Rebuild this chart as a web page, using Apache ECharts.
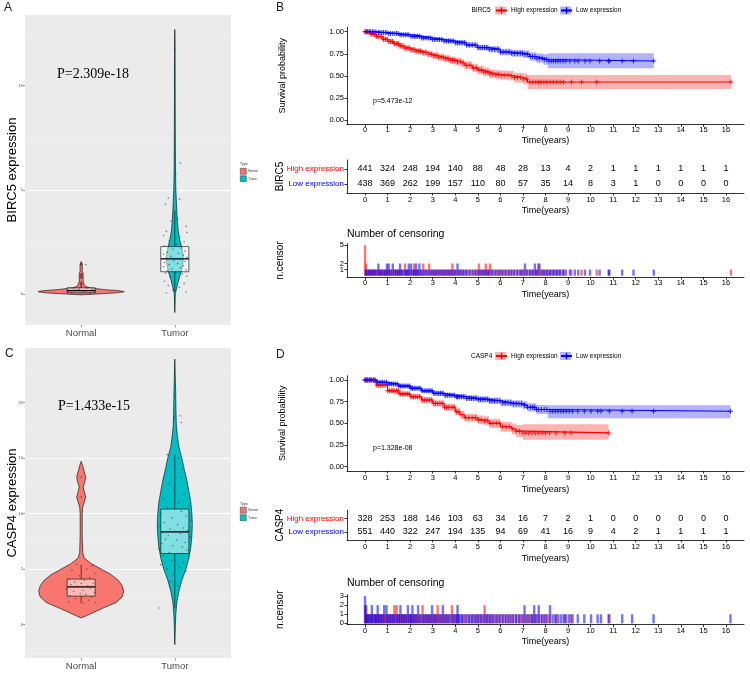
<!DOCTYPE html>
<html><head><meta charset="utf-8">
<script src="https://cdn.jsdelivr.net/npm/echarts@6/dist/echarts.min.js"></script>
<style>html,body{margin:0;padding:0;background:#fff}#c{width:750px;height:674px}</style>
</head><body><div id="c"></div>
<script>
// ================= DATA =================
const groups = ['Normal', 'Tumor'];
const groupPos = [1, 2];
const birc5ExprTicks = [0, 5, 10];
const casp4ExprTicks = [0, 5, 10, 15, 20];
const years = [0,1,2,3,4,5,6,7,8,9,10,11,12,13,14,15,16];
const survTicks = [0, 0.25, 0.5, 0.75, 1];
const birc5CensorTicks = [0, 1, 2, 5];
const casp4CensorTicks = [0, 1, 2, 3];

// violin profiles: [expression value, half width (category units)]
const birc5NormalViolin = [[-0.05,0],[0,0.214],[0.05,0.385],[0.1,0.46],[0.15,0.406],[0.2,0.256],[0.28,0.096],[0.35,0.048],[0.45,0.032],[0.6,0.021],[0.8,0.021],[0.95,0.021],[1.1,0.011],[1.3,0.013],[1.45,0.009],[1.55,0]];
const birc5TumorViolin = [[-0.9,0],[-0.3,0.004],[0,0.006],[0.3,0.021],[0.7,0.043],[1.0,0.064],[1.4,0.085],[1.8,0.091],[2.2,0.075],[2.6,0.053],[3.0,0.037],[3.5,0.027],[4.0,0.021],[4.5,0.016],[5.0,0.011],[6,0.007],[8,0.005],[10,0.004],[12,0.003],[12.7,0]];
const casp4NormalViolin = [[0.6,0],[1.0,0.107],[1.5,0.235],[2.0,0.374],[2.5,0.438],[3.0,0.454],[3.5,0.438],[4.0,0.395],[4.5,0.321],[5.0,0.214],[5.5,0.107],[6.0,0.032],[6.5,0.016],[8,0.011],[10,0.011],[10.6,0.016],[11.0,0.032],[11.5,0.048],[12.0,0.032],[12.4,0.021],[12.8,0.037],[13.3,0.048],[13.8,0.032],[14.3,0.016],[14.7,0]];
const casp4TumorViolin = [[-1.8,0],[-1,0.003],[0,0.006],[1,0.011],[2,0.021],[3,0.043],[4,0.075],[5,0.118],[6,0.15],[7,0.171],[8,0.182],[9,0.187],[10,0.182],[11,0.171],[12,0.15],[13,0.128],[14,0.1],[15,0.075],[16,0.043],[17,0.027],[18,0.016],[19,0.013],[20,0.011],[21,0.009],[22,0.006],[23,0.003],[23.9,0]];

// boxplot stats: [lower whisker, Q1, median, Q3, upper whisker]
const birc5Box = [[0.0,0.05,0.15,0.29,0.6],[0.1,1.06,1.68,2.27,4.0]];
const casp4Box = [[1.95,2.57,3.4,4.1,5.4],[1.5,6.4,8.35,10.4,15.3]];

// jitter points: [offset from group centre, value]
const birc5NormalPoints = [[-0.1,0.05],[0.02,0.12],[0.12,0.2],[-0.14,0.1],[0.06,0.28],[-0.04,0.18],[0.15,0.08],[-0.08,0.25],[0.09,0.03],[0,0.32],[-0.12,0.15],[0.04,0.07],[0.13,0.14],[-0.02,0.22],[0.05,1.4]];
const birc5NormalOutliers = [[0,1.42],[0,0.92],[0,0.8],[0,0.47]];
const birc5TumorPoints = [[0,11.75],[0,6.3],[0.06,6.28],[0.01,5.8],[-0.07,4.6],[0.05,4.55],[-0.1,4.3],[0.03,3.6],[-0.04,3.5],[0.12,3.25],[-0.09,3.0],[0.13,2.95],[-0.12,2.8],[0.05,2.7],[-0.06,2.55],[0.1,2.5],[0.02,2.4],[-0.11,2.3],[0.07,2.2],[-0.02,2.15],[0.11,2.05],[-0.08,2.0],[0.04,1.95],[-0.12,1.9],[0.09,1.85],[-0.04,1.8],[0.13,1.75],[-0.1,1.7],[0.06,1.65],[-0.01,1.6],[0.11,1.55],[-0.11,1.5],[0.03,1.45],[-0.06,1.4],[0.09,1.35],[-0.12,1.3],[0.06,1.25],[-0.03,1.2],[0.12,1.15],[-0.08,1.1],[0.01,1.05],[-0.1,1.0],[0.08,0.95],[0.13,0.85],[-0.05,0.8],[0.04,0.7],[-0.11,0.6],[0.1,0.5],[-0.07,0.4],[0.05,0.3],[-0.02,0.2],[0.12,0.1],[-0.09,0.05]];
const casp4NormalPoints = [[-0.05,5.4],[0.12,5.3],[0.06,5.0],[-0.1,4.9],[0.15,4.6],[-0.02,4.4],[0.09,4.2],[-0.14,4.1],[0.03,4.0],[-0.07,3.85],[0.13,3.75],[0,3.7],[-0.11,3.6],[0.07,3.5],[-0.04,3.45],[0.1,3.3],[-0.16,3.2],[0.02,3.1],[-0.08,3.0],[0.14,2.9],[-0.01,2.8],[0.05,2.7],[-0.12,2.6],[0.11,2.5],[-0.06,2.35],[0.08,2.2],[-0.13,2.05],[0.02,1.95],[0.15,2.0],[0,13.3],[0,11.5]];
const casp4TumorPoints = [[0,20.6],[-0.01,18.7],[0.06,18.8],[0.07,18.2],[-0.08,15.3],[0.04,15.0],[0.08,14.0],[0.07,13.2],[-0.07,12.7],[-0.01,12.2],[0.1,11.8],[-0.12,11.3],[0.04,11.0],[0.15,10.7],[-0.08,10.5],[0.07,10.2],[-0.15,10.0],[0.12,9.8],[-0.03,9.6],[0.17,9.4],[-0.11,9.2],[0.03,9.0],[-0.16,8.9],[0.09,8.7],[-0.05,8.6],[0.14,8.5],[0,8.4],[-0.13,8.3],[0.06,8.2],[-0.07,8.0],[0.16,7.9],[-0.1,7.7],[0.02,7.6],[0.11,7.4],[-0.14,7.3],[-0.02,7.1],[0.08,7.0],[-0.17,6.8],[0.13,6.7],[-0.06,6.5],[0.04,6.4],[-0.12,6.2],[0.15,6.0],[-0.03,5.8],[0.09,5.6],[-0.15,5.4],[0.05,5.2],[-0.08,5.0],[0.12,4.8],[-0.01,4.5],[0.07,4.2],[-0.05,3.9],[0.03,3.5],[-0.17,1.5]];

// Kaplan-Meier curves: [time, survival, lower CI, upper CI]
const birc5High = [[0,1,1,1],[0.25,0.97,0.955,0.985],[0.5,0.945,0.925,0.965],[0.75,0.915,0.89,0.94],[1.0,0.89,0.862,0.918],[1.25,0.865,0.835,0.895],[1.5,0.84,0.808,0.872],[1.75,0.815,0.782,0.848],[2.0,0.795,0.76,0.83],[2.25,0.78,0.744,0.816],[2.5,0.765,0.728,0.802],[2.75,0.745,0.707,0.783],[3.0,0.728,0.689,0.767],[3.25,0.71,0.67,0.75],[3.5,0.695,0.654,0.736],[3.75,0.678,0.636,0.72],[4.0,0.66,0.617,0.703],[4.25,0.645,0.601,0.689],[4.4,0.62,0.575,0.665],[4.75,0.59,0.543,0.637],[5.0,0.565,0.517,0.613],[5.25,0.545,0.496,0.594],[5.5,0.525,0.475,0.575],[5.75,0.515,0.464,0.566],[6.0,0.508,0.456,0.56],[6.4,0.5,0.446,0.554],[6.6,0.48,0.424,0.536],[7.0,0.465,0.405,0.525],[7.2,0.43,0.35,0.51],[16.22,0.43,0.35,0.51]];
const birc5Low = [[0,1,1,1],[0.5,0.99,0.982,0.998],[1.0,0.98,0.968,0.992],[1.5,0.965,0.95,0.98],[2.0,0.95,0.932,0.968],[2.5,0.93,0.909,0.951],[3.0,0.912,0.889,0.935],[3.5,0.895,0.87,0.92],[4.0,0.875,0.848,0.902],[4.5,0.85,0.82,0.88],[5.0,0.82,0.787,0.853],[5.5,0.8,0.765,0.835],[6.0,0.77,0.732,0.808],[6.5,0.755,0.715,0.795],[7.0,0.745,0.702,0.788],[7.3,0.72,0.672,0.768],[7.6,0.7,0.648,0.752],[7.9,0.685,0.625,0.745],[8.1,0.668,0.585,0.755],[12.8,0.668,0.585,0.755]];
const casp4High = [[0,1,1,1],[0.5,0.94,0.925,0.955],[1.0,0.875,0.852,0.898],[1.5,0.84,0.813,0.867],[2.0,0.808,0.777,0.839],[2.5,0.77,0.736,0.804],[3.0,0.73,0.693,0.767],[3.5,0.685,0.645,0.725],[4.0,0.635,0.592,0.678],[4.2,0.6,0.555,0.645],[4.4,0.565,0.518,0.612],[5.0,0.54,0.49,0.59],[5.3,0.53,0.478,0.582],[5.5,0.5,0.446,0.554],[6.0,0.46,0.402,0.518],[6.5,0.435,0.372,0.498],[6.7,0.41,0.34,0.48],[7.0,0.39,0.31,0.49],[10.79,0.39,0.31,0.49]];
const casp4Low = [[0,1,1,1],[0.5,0.975,0.965,0.985],[1.0,0.954,0.938,0.97],[1.5,0.93,0.91,0.95],[2.0,0.904,0.881,0.927],[2.5,0.875,0.85,0.9],[3.0,0.846,0.819,0.873],[3.5,0.825,0.796,0.854],[4.0,0.808,0.777,0.839],[4.5,0.79,0.757,0.823],[5.0,0.777,0.742,0.812],[5.5,0.76,0.723,0.797],[6.0,0.738,0.698,0.778],[6.5,0.725,0.683,0.767],[7.0,0.71,0.665,0.755],[7.2,0.685,0.637,0.733],[7.6,0.66,0.608,0.712],[8.1,0.64,0.56,0.71],[16.2,0.64,0.56,0.71]];

// numbers at risk
const birc5HighRisk = [441,324,248,194,140,88,48,28,13,4,2,1,1,1,1,1,1];
const birc5LowRisk  = [438,369,262,199,157,110,80,57,35,14,8,3,1,0,0,0,0];
const casp4HighRisk = [328,253,188,146,103,63,34,16,7,2,1,0,0,0,0,0,0];
const casp4LowRisk  = [551,440,322,247,194,135,94,69,41,16,9,4,2,1,1,1,1];

// censoring: [time, number censored]
const birc5HighCensor = [[0,5],[0.05,2],[0.12,1],[0.2,1],[0.27,1],[0.35,1],[0.43,1],[0.5,1],[0.58,1],[0.66,1],[0.74,1],[0.82,1],[0.9,1],[0.98,1],[1.06,1],[1.14,1],[1.22,1],[1.31,1],[1.4,1],[1.48,1],[1.56,1],[1.64,1],[1.77,2],[1.86,1],[1.95,1],[2.05,1],[2.17,2],[2.26,1],[2.36,1],[2.46,1],[2.58,2],[2.7,1],[2.84,2],[2.95,1],[3.06,1],[3.16,1],[3.27,1],[3.38,1],[3.48,1],[3.58,1],[3.68,1],[3.77,1],[3.87,2],[3.98,1],[4.1,1],[4.22,1],[4.35,1],[4.5,1],[4.65,1],[4.8,1],[4.93,1],[5.05,2],[5.16,1],[5.26,1],[5.35,2],[5.45,1],[5.54,2],[5.66,1],[5.8,1],[5.93,1],[6.06,1],[6.2,1],[6.34,1],[6.48,1],[6.62,1],[6.76,1],[6.9,1],[7.03,1],[7.16,1],[7.3,1],[7.44,1],[7.57,1],[7.68,2],[7.8,1],[7.93,1],[8.06,1],[8.2,1],[8.35,1],[8.5,1],[8.65,1],[8.8,1],[9.15,1],[9.6,1],[10.27,1],[16.22,1]];
const birc5LowCensor = [[0.03,1],[0.1,1],[0.18,1],[0.25,1],[0.33,1],[0.4,1],[0.48,1],[0.59,2],[0.66,1],[0.74,1],[0.82,1],[0.9,1],[0.97,2],[1.05,2],[1.13,1],[1.23,2],[1.32,1],[1.4,1],[1.47,1],[1.55,2],[1.63,1],[1.72,1],[1.8,1],[1.87,1],[1.94,2],[2.04,2],[2.12,1],[2.19,1],[2.26,2],[2.33,1],[2.41,2],[2.5,1],[2.6,1],[2.7,1],[2.8,1],[2.9,1],[3.0,1],[3.1,1],[3.2,1],[3.3,1],[3.4,1],[3.5,1],[3.6,1],[3.7,1],[3.8,1],[3.9,1],[4.0,1],[4.1,2],[4.2,1],[4.3,1],[4.4,1],[4.5,1],[4.62,1],[4.75,1],[4.88,1],[5.0,1],[5.1,1],[5.2,1],[5.3,1],[5.4,1],[5.5,1],[5.62,1],[5.75,1],[5.88,1],[6.0,1],[6.12,1],[6.25,1],[6.38,1],[6.5,1],[6.62,1],[6.75,1],[6.88,1],[6.98,1],[7.09,2],[7.2,1],[7.32,1],[7.42,1],[7.53,2],[7.62,1],[7.73,2],[7.85,1],[7.95,1],[8.05,1],[8.15,1],[8.25,1],[8.35,1],[8.45,1],[8.55,1],[8.65,1],[8.78,1],[8.9,1],[9.08,1],[9.3,1],[9.45,1],[9.75,1],[9.97,1],[10.4,1],[10.8,1],[10.83,1],[11.4,1],[11.9,1],[12.8,1]];
const casp4HighCensor = [[0,2],[0.05,1],[0.12,1],[0.2,1],[0.28,1],[0.36,1],[0.44,1],[0.52,1],[0.6,1],[0.68,1],[0.76,1],[0.84,1],[0.92,1],[1.0,1],[1.08,1],[1.16,1],[1.23,1],[1.3,2],[1.4,2],[1.48,1],[1.56,1],[1.64,1],[1.72,1],[1.8,1],[1.88,1],[1.96,1],[2.05,1],[2.14,1],[2.23,1],[2.32,1],[2.42,1],[2.55,2],[2.65,1],[2.75,1],[2.85,1],[2.95,1],[3.05,1],[3.13,1],[3.22,2],[3.32,1],[3.42,1],[3.52,1],[3.62,1],[3.72,1],[3.85,2],[3.95,1],[4.05,1],[4.15,1],[4.3,1],[4.45,1],[4.6,1],[4.75,1],[4.9,1],[5.02,1],[5.15,1],[5.3,2],[5.42,1],[5.55,1],[5.68,1],[5.82,1],[5.95,1],[6.1,1],[6.25,1],[6.4,1],[6.55,1],[6.7,1],[6.85,1],[7.0,1],[7.12,1],[7.25,1],[7.4,1],[7.55,1],[7.7,1],[7.85,1],[8.0,1],[8.17,1],[8.46,1],[8.85,1],[9.13,1],[10.79,1]];
const casp4LowCensor = [[0,3],[0.05,2],[0.1,1],[0.17,1],[0.24,1],[0.3,2],[0.37,1],[0.44,1],[0.5,1],[0.56,2],[0.63,1],[0.7,1],[0.77,1],[0.85,2],[0.95,2],[1.02,1],[1.1,1],[1.18,1],[1.26,1],[1.34,1],[1.42,1],[1.5,1],[1.57,2],[1.65,1],[1.73,1],[1.81,1],[1.9,2],[1.98,1],[2.04,1],[2.1,2],[2.18,1],[2.26,1],[2.35,2],[2.44,1],[2.53,1],[2.62,1],[2.71,1],[2.8,1],[2.88,1],[2.97,2],[3.06,1],[3.15,1],[3.25,1],[3.35,1],[3.45,2],[3.55,1],[3.65,1],[3.75,1],[3.85,1],[3.95,1],[4.05,1],[4.1,2],[4.17,1],[4.27,1],[4.37,1],[4.5,1],[4.62,1],[4.72,1],[4.82,1],[4.92,1],[5.02,1],[5.12,1],[5.22,1],[5.32,1],[5.42,1],[5.52,1],[5.62,1],[5.74,1],[5.86,1],[5.98,1],[6.1,1],[6.22,1],[6.34,1],[6.46,1],[6.58,1],[6.7,1],[6.82,1],[6.94,1],[7.07,2],[7.2,1],[7.32,1],[7.42,1],[7.5,2],[7.6,1],[7.7,2],[7.82,1],[7.94,1],[8.06,1],[8.2,2],[8.32,1],[8.44,1],[8.56,1],[8.68,1],[8.8,1],[8.92,1],[9.05,1],[9.2,1],[9.43,1],[9.72,1],[10.02,1],[10.31,1],[10.46,1],[10.83,1],[11.4,1],[11.84,1],[12.79,1],[16.2,1]];

// ================= STYLE / HELPERS =================
const FONT = 'Liberation Sans, Arial, Helvetica, sans-serif';
const SERIF = 'Liberation Serif, Times New Roman, serif';
const RED = '#FF0000', BLUE = '#0000FF';
const NORMAL_COL = '#F8766D', TUMOR_COL = '#00BFC4';
const PLUS = 'path://M0,4L10,4L10,6L0,6Z M4,0L6,0L6,10L4,10Z';
const BOX_HALF = 0.15;

function violinSeries(name, gi, pos, profile, color) {
  return {
    type: 'custom', name, xAxisIndex: gi, yAxisIndex: gi, silent: true,
    itemStyle: { color },
    data: [[pos, profile[0][0]]],
    renderItem: (params, api) => {
      const right = profile.map(([v, w]) => api.coord([pos + w, v]));
      const left = profile.slice().reverse().map(([v, w]) => api.coord([pos - w, v]));
      return { type: 'polygon', shape: { points: right.concat(left) },
        style: { fill: color, stroke: '#000', lineWidth: 0.6 } };
    }
  };
}
function boxSeries(gi, stats) {
  return {
    type: 'custom', xAxisIndex: gi, yAxisIndex: gi, silent: true,
    data: stats.map((s, i) => [groupPos[i]].concat(s)),
    encode: { x: 0, y: [1, 2, 3, 4, 5] },
    renderItem: (params, api) => {
      const p = api.value(0);
      const lw = api.coord([p, api.value(1)]), q1 = api.coord([p, api.value(2)]);
      const md = api.coord([p, api.value(3)]), q3 = api.coord([p, api.value(4)]);
      const uw = api.coord([p, api.value(5)]);
      const l = api.coord([p - BOX_HALF, 0])[0], r = api.coord([p + BOX_HALF, 0])[0];
      const st = { stroke: '#000', lineWidth: 0.6 };
      return { type: 'group', children: [
        { type: 'line', shape: { x1: lw[0], y1: lw[1], x2: q1[0], y2: q1[1] }, style: st },
        { type: 'line', shape: { x1: q3[0], y1: q3[1], x2: uw[0], y2: uw[1] }, style: st },
        { type: 'rect', shape: { x: l, y: q3[1], width: r - l, height: q1[1] - q3[1] },
          style: { fill: 'rgba(255,255,255,0.5)', stroke: '#000', lineWidth: 0.6 } },
        { type: 'line', shape: { x1: l, y1: md[1], x2: r, y2: md[1] }, style: { stroke: '#000', lineWidth: 1.3 } }
      ] };
    }
  };
}
function pointsSeries(gi, pos, pts, color, size, symbol) {
  return { type: 'scatter', xAxisIndex: gi, yAxisIndex: gi, silent: true,
    symbol: symbol || 'circle', symbolSize: size,
    itemStyle: { color }, data: pts.map(([o, v]) => [pos + o, v]) };
}
function violinX(gi) {
  return { type: 'value', gridIndex: gi, min: 0.4, max: 2.6, splitNumber: 2,
    axisLine: { show: false, onZero: false },
    axisTick: { show: true, customValues: groupPos, length: 2.5, lineStyle: { color: '#333', width: 0.5 } },
    axisLabel: { customValues: groupPos, formatter: v => groups[Math.round(v) - 1] || '', fontSize: 9.5, color: '#4D4D4D', margin: 3.5, fontFamily: FONT },
    splitLine: { show: true, showMinLine: false, showMaxLine: false, lineStyle: { color: '#FFFFFF', width: 1 } } };
}
function violinY(gi, min, max, splitNumber, ticks, name) {
  return { type: 'value', gridIndex: gi, min, max, splitNumber, name, nameLocation: 'middle', nameRotate: 90, nameGap: 6,
    nameMoveOverlap: false,
    nameTextStyle: { fontSize: 13, color: '#000', fontFamily: FONT },
    axisLine: { show: false, onZero: false },
    axisTick: { show: true, customValues: ticks, length: 2, lineStyle: { color: '#333', width: 0.5 } },
    axisLabel: { customValues: ticks, fontSize: 4, color: '#4D4D4D', margin: 2, fontFamily: FONT },
    splitLine: { show: true, showMinLine: false, showMaxLine: false, lineStyle: { color: '#FFFFFF', width: 1 } },
    minorTick: { show: false, splitNumber: 2 },
    minorSplitLine: { show: true, lineStyle: { color: '#F7F7F7', width: 0.5 } } };
}
const AX_LINE = { onZero: false, lineStyle: { color: '#000', width: 0.8 } };
function timeX(gi, nameGap, margin) {
  return { type: 'value', gridIndex: gi, min: -0.8, max: 16.8, splitNumber: 15,
    name: 'Time(years)', nameLocation: 'middle', nameGap, nameMoveOverlap: false,
    nameTextStyle: { fontSize: 9, color: '#000', fontFamily: FONT },
    axisLine: AX_LINE,
    axisTick: { customValues: years, length: 2.5, lineStyle: { color: '#000', width: 0.8 } },
    axisLabel: { customValues: years, fontSize: 7.5, color: '#000', margin, fontFamily: FONT },
    splitLine: { show: false } };
}
function survY(gi) {
  return { type: 'value', gridIndex: gi, min: -0.05, max: 1.05,
    name: 'Survival probability', nameLocation: 'middle', nameRotate: 90, nameGap: 60, nameMoveOverlap: false,
    nameTextStyle: { fontSize: 9, color: '#000', fontFamily: FONT },
    axisLine: AX_LINE,
    axisTick: { customValues: survTicks, length: 2.5, lineStyle: { color: '#000', width: 0.8 } },
    axisLabel: { customValues: survTicks, formatter: v => v.toFixed(2), fontSize: 7.5, color: '#000', margin: 3, fontFamily: FONT },
    splitLine: { show: false } };
}
function riskY(gi, name) {
  return { type: 'value', gridIndex: gi, min: 0.4, max: 2.6,
    name, nameLocation: 'middle', nameRotate: 90, nameGap: 62, nameMoveOverlap: false,
    nameTextStyle: { fontSize: 10, color: '#000', fontFamily: FONT },
    axisLine: AX_LINE,
    axisTick: { customValues: groupPos, length: 2.5, lineStyle: { color: '#000', width: 0.8 } },
    axisLabel: { customValues: groupPos, formatter: v => v > 1.5 ? 'High expression' : 'Low expression',
      color: v => v > 1.5 ? RED : BLUE, fontSize: 8, margin: 3, fontFamily: FONT },
    splitLine: { show: false } };
}
function censorY(gi, max, ticks) {
  return { type: 'value', gridIndex: gi, min: -max * 0.05, max: max * 1.05,
    name: 'n.censor', nameLocation: 'middle', nameRotate: 90, nameGap: 62, nameMoveOverlap: false,
    nameTextStyle: { fontSize: 10, color: '#000', fontFamily: FONT },
    axisLine: AX_LINE,
    axisTick: { customValues: ticks, length: 2.5, lineStyle: { color: '#000', width: 0.8 } },
    axisLabel: { customValues: ticks, fontSize: 7.5, color: '#000', margin: 3, fontFamily: FONT },
    splitLine: { show: false } };
}
function survAt(rows, t) {
  let s = rows[0][1];
  for (const r of rows) { if (r[0] <= t) s = r[1]; else break; }
  return s;
}
function bandSeries(name, gi, rows, color) {
  return { type: 'custom', name, xAxisIndex: gi, yAxisIndex: gi, silent: true,
    itemStyle: { color },
    data: [[rows[0][0], rows[0][1]]],
    renderItem: (params, api) => {
      const up = [], lo = [];
      rows.forEach((r, i) => {
        const tn = i < rows.length - 1 ? rows[i + 1][0] : r[0];
        up.push(api.coord([r[0], r[3]]), api.coord([tn, r[3]]));
        lo.push(api.coord([r[0], r[2]]), api.coord([tn, r[2]]));
      });
      return { type: 'polygon', shape: { points: up.concat(lo.reverse()) }, style: { fill: color } };
    } };
}
function curveSeries(name, gi, rows, color) {
  return { type: 'line', name, xAxisIndex: gi, yAxisIndex: gi, step: 'end', silent: true,
    showSymbol: false, symbol: PLUS, symbolSize: 6,
    lineStyle: { color, width: 1.1 }, itemStyle: { color },
    data: rows.map(r => [r[0], r[1]]) };
}
function censorMarks(gi, rows, cens, color) {
  return { type: 'scatter', xAxisIndex: gi, yAxisIndex: gi, silent: true,
    symbol: PLUS, symbolSize: 5, itemStyle: { color },
    data: cens.map(([t]) => [t, survAt(rows, t)]) };
}
function riskSeries(gi, counts, row) {
  return { type: 'custom', xAxisIndex: gi, yAxisIndex: gi, silent: true,
    data: years.map((t, i) => [t, row, counts[i]]),
    renderItem: (params, api) => {
      const c = api.coord([api.value(0), api.value(1)]);
      return { type: 'text', x: c[0], y: c[1],
        style: { text: String(api.value(2)), fill: '#000', fontSize: 9, fontFamily: FONT, align: 'center', verticalAlign: 'middle' } };
    } };
}
function censorBars(gi, cens, color) {
  return { type: 'custom', xAxisIndex: gi, yAxisIndex: gi, silent: true,
    data: cens,
    renderItem: (params, api) => {
      const b = api.coord([api.value(0), 0]);
      const t = api.coord([api.value(0), api.value(1)]);
      return { type: 'rect', shape: { x: b[0] - 1.2, y: t[1], width: 2.4, height: b[1] - t[1] }, style: { fill: color } };
    } };
}
function txt(text, left, top, size, color, family) {
  return { text, left, top, padding: 0,
    textStyle: { fontSize: size, fontWeight: 'normal', color: color || '#000', fontFamily: family || FONT } };
}
function typeLegend(top) {
  return { left: 240, top, orient: 'vertical', itemWidth: 6, itemHeight: 6, itemGap: 1, padding: 0,
    selectedMode: false, icon: 'rect',
    textStyle: { fontSize: 3, color: '#333', fontFamily: FONT, padding: [0, 0, 0, -3] },
    data: [ { name: 'Normal', itemStyle: { color: NORMAL_COL, borderColor: '#333', borderWidth: 0.5 } },
            { name: 'Tumor', itemStyle: { color: TUMOR_COL, borderColor: '#333', borderWidth: 0.5 } } ] };
}
function kmLegends(prefix, top) {
  return [
    { left: 495, top, itemWidth: 11, itemHeight: 8, itemGap: 2.5, padding: 0, selectedMode: false,
      textStyle: { fontSize: 6.5, color: '#000', fontFamily: FONT },
      formatter: n => n.indexOf('High') >= 0 ? 'High expression' : 'Low expression',
      data: [ { name: prefix + ' High band', icon: 'rect', itemStyle: { color: 'rgba(255,0,0,0.3)' } },
              { name: prefix + ' Low band', icon: 'rect', itemStyle: { color: 'rgba(0,0,255,0.3)' } } ] },
    { left: 495, top, itemWidth: 11, itemHeight: 8, padding: 0, selectedMode: false, formatter: () => '',
      data: [prefix + ' High expression'] },
    { left: 560, top, itemWidth: 11, itemHeight: 8, padding: 0, selectedMode: false, formatter: () => '',
      data: [prefix + ' Low expression'] }
  ];
}

// ================= OPTION =================
const option = {
  animation: false,
  backgroundColor: '#FFFFFF',
  textStyle: { fontFamily: FONT },
  title: [
    txt('A', 4, 2, 12, '#222'),
    txt('B', 276, 1.5, 12, '#222'),
    txt('C', 5, 348, 12, '#222'),
    txt('D', 276, 349, 12, '#222'),
    txt('P=2.309e-18', 57, 67, 14, '#000', SERIF),
    txt('P=1.433e-15', 58, 399, 14, '#000', SERIF),
    txt('Type', 240, 162, 3.5, '#333'),
    txt('Type', 240, 502, 3.5, '#333'),
    txt('BIRC5', 471.5, 6.5, 6.5),
    txt('CASP4', 471, 352.5, 6.5),
    txt('p=5.473e-12', 373, 97.5, 7),
    txt('p=1.328e-08', 373, 445, 7),
    txt('Number of censoring', 347, 228.5, 10.5),
    txt('Number of censoring', 347, 577.5, 10.5)
  ],
  legend: [typeLegend(168), typeLegend(507)].concat(kmLegends('BIRC5', 6.5), kmLegends('CASP4', 352)),
  grid: [
    { left: 25, top: 15, width: 206, height: 310, show: true, backgroundColor: '#EBEBEB', borderWidth: 0 },
    { left: 25, top: 348, width: 206, height: 310, show: true, backgroundColor: '#EBEBEB', borderWidth: 0 },
    { left: 347, top: 27.3, width: 397, height: 97.1 },
    { left: 347, top: 160, width: 397, height: 33 },
    { left: 347, top: 243.7, width: 397, height: 33.5 },
    { left: 347, top: 375.7, width: 397, height: 95.3 },
    { left: 347, top: 510.3, width: 397, height: 29.5 },
    { left: 347, top: 594.7, width: 397, height: 30 }
  ],
  xAxis: [
    violinX(0), violinX(1),
    timeX(2, 12, 2), timeX(3, 13.5, 3), timeX(4, 13, 2),
    timeX(5, 14.5, 3), timeX(6, 14.5, 3), timeX(7, 12.5, 2)
  ],
  yAxis: [
    violinY(0, -1.5, 13.4, 3, birc5ExprTicks, 'BIRC5 expression'),
    violinY(1, -3.0, 24.9, 5, casp4ExprTicks, 'CASP4 expression'),
    survY(2), riskY(3, 'BIRC5'), censorY(4, 5, birc5CensorTicks),
    survY(5), riskY(6, 'CASP4'), censorY(7, 3, casp4CensorTicks)
  ],
  series: [
    // Panel A
    violinSeries('Normal', 0, groupPos[0], birc5NormalViolin, NORMAL_COL),
    violinSeries('Tumor', 0, groupPos[1], birc5TumorViolin, TUMOR_COL),
    boxSeries(0, birc5Box),
    pointsSeries(0, groupPos[0], birc5NormalOutliers, '#6B2E28', 3.5, 'diamond'),
    pointsSeries(0, groupPos[0], birc5NormalPoints, 'rgba(50,50,50,0.75)', 1.6),
    pointsSeries(0, groupPos[1], birc5TumorPoints, 'rgba(50,50,50,0.75)', 1.6),
    // Panel C
    violinSeries('Normal', 1, groupPos[0], casp4NormalViolin, NORMAL_COL),
    violinSeries('Tumor', 1, groupPos[1], casp4TumorViolin, TUMOR_COL),
    boxSeries(1, casp4Box),
    pointsSeries(1, groupPos[0], casp4NormalPoints, 'rgba(50,50,50,0.75)', 1.6),
    pointsSeries(1, groupPos[1], casp4TumorPoints, 'rgba(50,50,50,0.75)', 1.6),
    // Panel B
    bandSeries('BIRC5 High band', 2, birc5High, 'rgba(255,0,0,0.3)'),
    bandSeries('BIRC5 Low band', 2, birc5Low, 'rgba(0,0,255,0.3)'),
    curveSeries('BIRC5 High expression', 2, birc5High, RED),
    curveSeries('BIRC5 Low expression', 2, birc5Low, BLUE),
    censorMarks(2, birc5High, birc5HighCensor, RED),
    censorMarks(2, birc5Low, birc5LowCensor, BLUE),
    riskSeries(3, birc5HighRisk, 2),
    riskSeries(3, birc5LowRisk, 1),
    censorBars(4, birc5HighCensor, 'rgba(255,0,0,0.55)'),
    censorBars(4, birc5LowCensor, 'rgba(0,0,255,0.55)'),
    // Panel D
    bandSeries('CASP4 High band', 5, casp4High, 'rgba(255,0,0,0.3)'),
    bandSeries('CASP4 Low band', 5, casp4Low, 'rgba(0,0,255,0.3)'),
    curveSeries('CASP4 High expression', 5, casp4High, RED),
    curveSeries('CASP4 Low expression', 5, casp4Low, BLUE),
    censorMarks(5, casp4High, casp4HighCensor, RED),
    censorMarks(5, casp4Low, casp4LowCensor, BLUE),
    riskSeries(6, casp4HighRisk, 2),
    riskSeries(6, casp4LowRisk, 1),
    censorBars(7, casp4HighCensor, 'rgba(255,0,0,0.55)'),
    censorBars(7, casp4LowCensor, 'rgba(0,0,255,0.55)')
  ]
};
const chart = echarts.init(document.getElementById('c'), null, { renderer: 'canvas', width: 750, height: 674 });
chart.setOption(option);
</script>
</body></html>
